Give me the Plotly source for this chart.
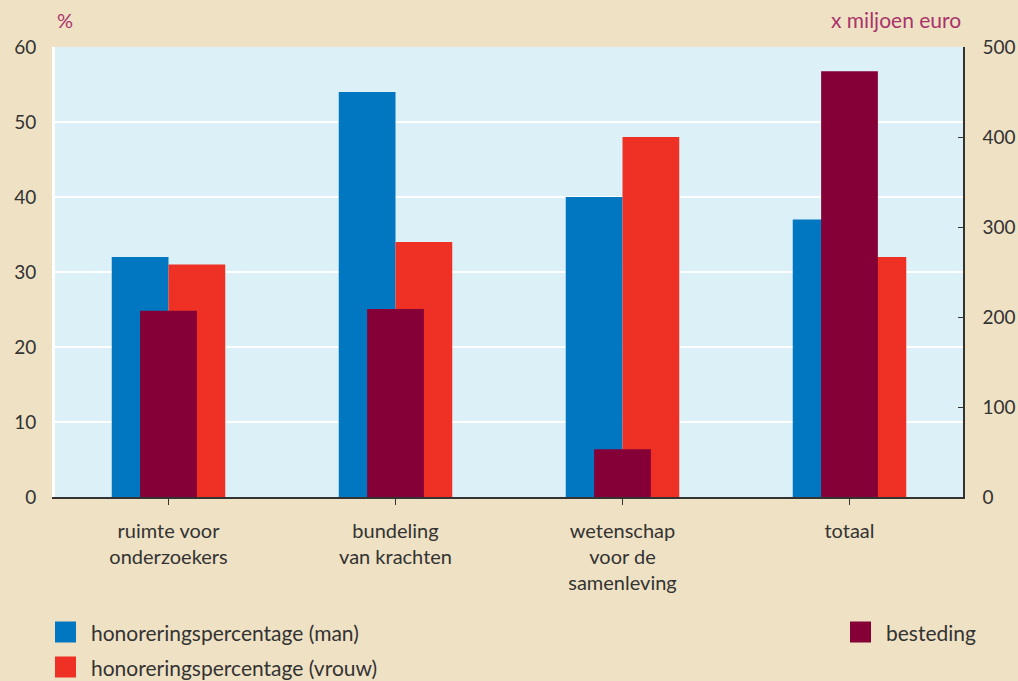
import plotly.graph_objects as go

categories = ["ruimte voor<br>onderzoekers", "bundeling<br>van krachten",
              "wetenschap<br>voor de<br>samenleving", "totaal"]
man = [32, 54, 40, 37]
vrouw = [31, 34, 48, 32]
besteding = [207, 209, 53, 473]

series_names = ["honoreringspercentage (man)", "honoreringspercentage (vrouw)", "besteding"]
colors = ["#0077c0", "#ee3124", "#840036"]

W, H = 1018, 681
L, R, T, B = 55, 963, 47, 497
FONT = "Lato"
TXT = "#333333"
ACC = "#a8336b"
BG = "#efe1c4"

fig = go.Figure()
fig.add_trace(go.Bar(x=categories, y=man, name=series_names[0], marker_color=colors[0],
                     marker_line_width=0, width=0.25, offset=-0.25, showlegend=False))
fig.add_trace(go.Bar(x=categories, y=vrouw, name=series_names[1], marker_color=colors[1],
                     marker_line_width=0, width=0.25, offset=0.0, showlegend=False))
fig.add_trace(go.Bar(x=categories, y=besteding, name=series_names[2], marker_color=colors[2],
                     marker_line_width=0, width=0.25, offset=-0.125, yaxis="y2", showlegend=False))

def px(xp):
    return (xp - L) / (R - L)

def py(yp):
    return (B - yp) / (B - T)

shapes = []
annotations = []
legend_items = [(55, 632, 0), (55, 667, 1), (850, 632, 2)]
for x0, yc, i in legend_items:
    shapes.append(dict(type="rect", xref="paper", yref="paper",
                       x0=px(x0), x1=px(x0 + 21), y0=py(yc + 10.5), y1=py(yc - 10.5),
                       fillcolor=colors[i], line=dict(width=0)))
    annotations.append(dict(xref="paper", yref="paper", x=px(x0 + 34), y=py(yc),
                            text=series_names[i], showarrow=False, xanchor="left",
                            yanchor="middle", font=dict(family=FONT, size=21, color=TXT)))

annotations.append(dict(xref="paper", yref="paper", x=px(65), y=py(20), text="%",
                        showarrow=False, xanchor="center", yanchor="middle",
                        font=dict(family=FONT, size=20, color=ACC)))
annotations.append(dict(xref="paper", yref="paper", x=px(963), y=py(20), text="x miljoen euro",
                        showarrow=False, xanchor="right", yanchor="middle",
                        font=dict(family=FONT, size=21, color=ACC)))

fig.update_layout(
    width=W, height=H,
    margin=dict(l=L, r=W - R, t=T, b=H - B, autoexpand=False),
    paper_bgcolor=BG,
    plot_bgcolor="#dcf0f7",
    barmode="overlay",
    font=dict(family=FONT, size=19, color=TXT),
    xaxis=dict(type="category", range=[-0.5, 3.5], showgrid=False, showline=True,
               linecolor="#333333", linewidth=2, ticks="outside", ticklen=6,
               tickcolor="#333333", tickwidth=1, ticklabelstandoff=9,
               tickfont=dict(family=FONT, size=20, color=TXT)),
    yaxis=dict(range=[0, 60], dtick=10, showgrid=True, gridcolor="white", gridwidth=2,
               showline=True, linecolor="white", linewidth=3, ticks="",
               zeroline=False, ticklabelstandoff=12,
               tickfont=dict(family=FONT, size=19, color=TXT)),
    yaxis2=dict(range=[0, 500], dtick=100, overlaying="y", side="right", showgrid=False,
                showline=True, linecolor="#333333", linewidth=1.5, ticks="inside",
                ticklen=5, tickcolor="#333333", zeroline=False, ticklabelstandoff=14,
                tickfont=dict(family=FONT, size=19, color=TXT)),
    shapes=shapes,
    annotations=annotations,
    showlegend=False,
)

fig.write_html("out.html", config={"displayModeBar": False},
               post_script="document.body.style.margin='0';document.body.style.background='%s';" % BG)
